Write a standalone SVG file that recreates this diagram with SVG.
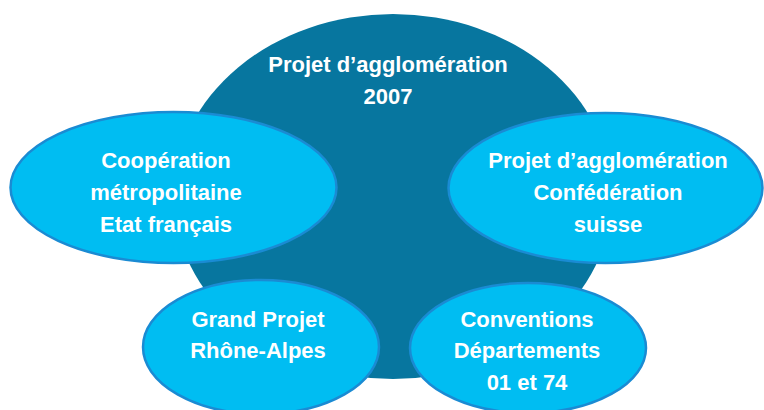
<svg xmlns="http://www.w3.org/2000/svg" width="764" height="410" viewBox="0 0 764 410">
  <style>
    .hub { fill: #07769f; }
    .sat { fill: #00bdf2; stroke: #1a8bd3; stroke-width: 2.5; }
    .lbl { font-family: "Liberation Sans", Arial, sans-serif; font-weight: bold; font-size: 22px; fill: #ffffff; text-anchor: middle; }
  </style>
  <rect width="764" height="410" fill="#ffffff"/>

  <g id="hub">
    <ellipse class="hub" cx="393" cy="196.5" rx="219" ry="182.5"/>
    <text class="lbl" x="388" y="72">Projet d’agglomération</text>
    <text class="lbl" x="388" y="104">2007</text>
  </g>

  <g id="cooperation">
    <ellipse class="sat" cx="173.5" cy="187.5" rx="163" ry="75.5"/>
    <text class="lbl" x="166" y="168">Coopération</text>
    <text class="lbl" x="166" y="200">métropolitaine</text>
    <text class="lbl" x="166" y="232">Etat français</text>
  </g>

  <g id="confederation">
    <ellipse class="sat" cx="605.5" cy="188" rx="157" ry="75"/>
    <text class="lbl" x="608" y="168">Projet d’agglomération</text>
    <text class="lbl" x="608" y="200">Confédération</text>
    <text class="lbl" x="608" y="232">suisse</text>
  </g>

  <g id="rhone-alpes">
    <ellipse class="sat" cx="261" cy="347" rx="118" ry="67"/>
    <text class="lbl" x="258" y="327">Grand Projet</text>
    <text class="lbl" x="258" y="358">Rhône-Alpes</text>
  </g>

  <g id="conventions">
    <ellipse class="sat" cx="528" cy="348" rx="118" ry="65"/>
    <text class="lbl" x="527" y="327">Conventions</text>
    <text class="lbl" x="527" y="358">Départements</text>
    <text class="lbl" x="527" y="390">01 et 74</text>
  </g>

  <g id="connectors"/>
</svg>
